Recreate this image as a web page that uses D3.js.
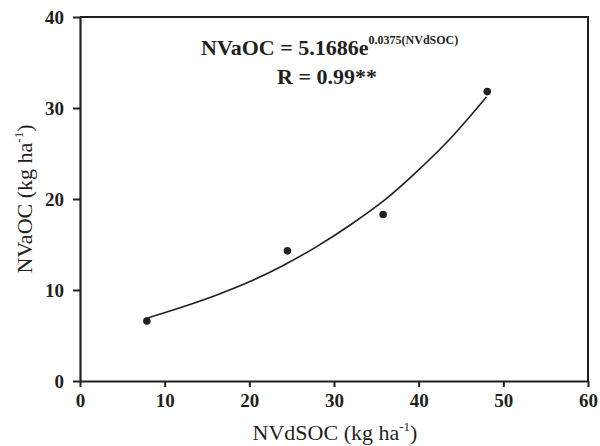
<!DOCTYPE html>
<html>
<head>
<meta charset="utf-8">
<script src="https://cdn.jsdelivr.net/npm/d3@7"></script>
<style>
  body { margin: 0; background: #fff; }
  svg { display: block; font-family: 'Liberation Serif', 'Times New Roman', serif; }
</style>
</head>
<body>
<div id="chart"></div>
<script>
// observed points (NVdSOC, NVaOC)
const pointX = [7.9, 24.5, 35.8, 48.1];
const pointY = [6.6, 14.3, 18.3, 31.8];

// fitted curve
const curveX = [7.9, 12, 16, 20, 24, 28, 32, 36, 40, 44, 48];
const curveY = [6.9, 8.1, 9.4, 10.9, 12.7, 14.8, 17.2, 19.9, 23.2, 26.9, 31.2];

const xTicks = [0, 10, 20, 30, 40, 50, 60];
const yTicks = [0, 10, 20, 30, 40];

const width = 600;
const height = 446;
const margin = { top: 17, right: 12, bottom: 65, left: 80 };
const ink = '#231f20';

const svg = d3.select('#chart').append('svg')
  .attr('width', width)
  .attr('height', height);

const x = d3.scaleLinear()
  .domain([0, 60])
  .range([margin.left, width - margin.right]);
const y = d3.scaleLinear()
  .domain([0, 40])
  .range([height - margin.bottom, margin.top]);

// frame (top + right)
svg.append('path')
  .attr('d', `M${x(0)},${y(40)}H${x(60)}V${y(0)}`)
  .attr('fill', 'none')
  .attr('stroke', ink)
  .attr('stroke-width', 2);

const xAxis = svg.append('g')
  .attr('transform', `translate(0, ${y(0)})`)
  .call(d3.axisBottom(x).tickValues(xTicks).tickSize(6).tickSizeOuter(0).tickPadding(7));
const yAxis = svg.append('g')
  .attr('transform', `translate(${x(0)}, 0)`)
  .call(d3.axisLeft(y).tickValues(yTicks).tickSize(7).tickSizeOuter(0).tickPadding(9));

[xAxis, yAxis].forEach(g => {
  g.attr('font-family', null).attr('font-size', null);
  g.select('.domain').attr('stroke', ink).attr('stroke-width', 2.2);
  g.selectAll('.tick line').attr('stroke', ink).attr('stroke-width', 2);
  g.selectAll('.tick text')
    .attr('fill', ink)
    .style('font-size', '19px')
    .style('font-weight', 'bold');
});

// curve
const lineFn = d3.line()
  .x((d, i) => x(curveX[i]))
  .y(d => y(d))
  .curve(d3.curveMonotoneX);
svg.append('path')
  .attr('d', lineFn(curveY))
  .attr('fill', 'none')
  .attr('stroke', ink)
  .attr('stroke-width', 1.6);

// points
svg.selectAll('circle.pt')
  .data(pointY)
  .enter()
  .append('circle')
  .attr('class', 'pt')
  .attr('cx', (d, i) => x(pointX[i]))
  .attr('cy', d => y(d))
  .attr('r', 3.8)
  .attr('fill', ink);

// equation
const eq = svg.append('text')
  .attr('x', 201)
  .attr('y', 55)
  .attr('fill', ink)
  .style('font-weight', 'bold');
eq.append('tspan').style('font-size', '22px').text('NVaOC = 5.1686e');
eq.append('tspan').style('font-size', '12px').attr('dy', -11).text('0.0375(NVdSOC)');

svg.append('text')
  .attr('x', 327)
  .attr('y', 84)
  .attr('text-anchor', 'middle')
  .attr('fill', ink)
  .style('font-weight', 'bold')
  .style('font-size', '22px')
  .text('R = 0.99**');

// axis titles
const xLabel = svg.append('text')
  .attr('x', 335)
  .attr('y', 440)
  .attr('text-anchor', 'middle')
  .attr('fill', ink)
  .style('font-size', '22px');
xLabel.append('tspan').text('NVdSOC (kg ha');
xLabel.append('tspan').attr('dy', -9).style('font-size', '13px').text('-1');
xLabel.append('tspan').attr('dy', 9).text(')');

const yLabel = svg.append('text')
  .attr('transform', `translate(32, ${y(20)}) rotate(-90)`)
  .attr('text-anchor', 'middle')
  .attr('fill', ink)
  .style('font-size', '22px');
yLabel.append('tspan').text('NVaOC (kg ha');
yLabel.append('tspan').attr('dy', -9).style('font-size', '13px').text('-1');
yLabel.append('tspan').attr('dy', 9).text(')');
</script>
</body>
</html>
